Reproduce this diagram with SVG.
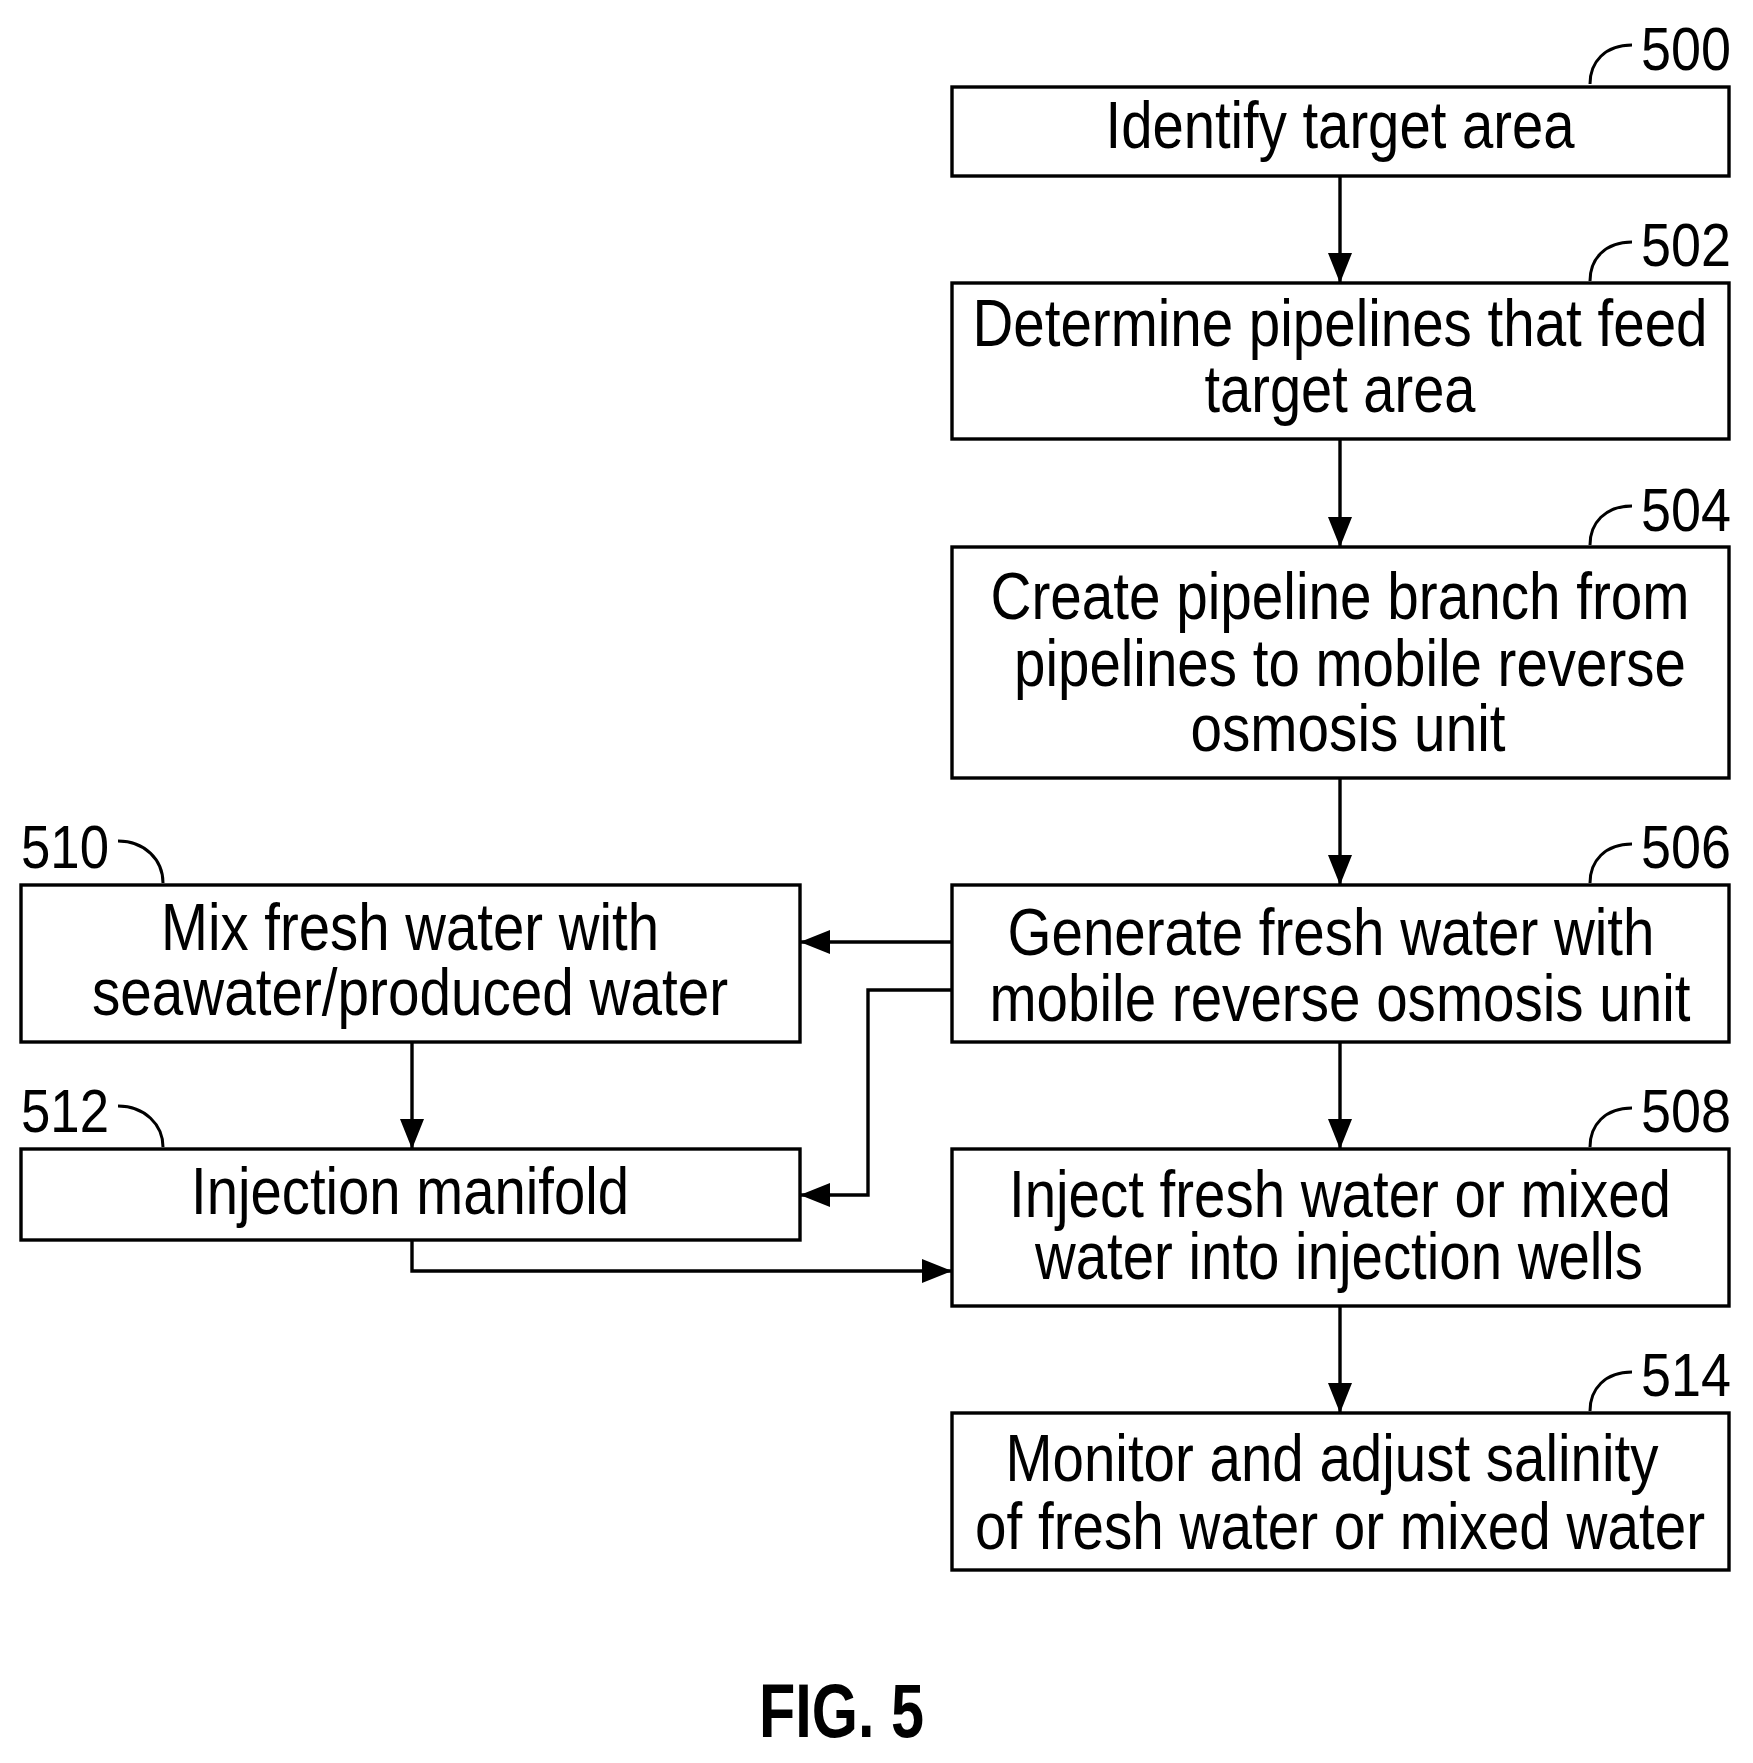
<svg xmlns="http://www.w3.org/2000/svg" width="1753" height="1763" viewBox="0 0 1753 1763">
<style>
rect{fill:#fff;stroke:#000;stroke-width:3.4}
text{font-family:"Liberation Sans",Arial,sans-serif;font-size:67px;fill:#000}
.t{text-anchor:middle}
.n{font-size:61px}
.c{fill:none;stroke:#000;stroke-width:3}
.f{font-weight:bold;font-size:76px}
</style>
<defs>
<marker id="b" markerWidth="30" markerHeight="24" refX="30" refY="12" orient="auto" markerUnits="userSpaceOnUse"><path d="M0,0 L30,12 L0,24 Z"/></marker></defs>
<rect width="1753" height="1763" style="fill:#fff;stroke:none"/>
<g id="connectors" fill="none" stroke="#000" stroke-width="3.4">
<path d="M1340,176 V283" marker-end="url(#b)"/>
<path d="M1340,439 V547" marker-end="url(#b)"/>
<path d="M1340,778 V885" marker-end="url(#b)"/>
<path d="M1340,1042 V1149" marker-end="url(#b)"/>
<path d="M1340,1306 V1413" marker-end="url(#b)"/>
<path d="M952,942 H800" marker-end="url(#b)"/>
<path d="M952,990 H868 V1195 H800" marker-end="url(#b)"/>
<path d="M412,1042 V1149" marker-end="url(#b)"/>
<path d="M412,1240 V1271 H952" marker-end="url(#b)"/>
</g>
<g id="n500"><rect x="952" y="87" width="777" height="89"/><text class="t" x="1340" y="148" textLength="469" lengthAdjust="spacingAndGlyphs">Identify target area</text><path class="c" d="M1590,84 C1590,62 1605,45 1632,45"/><text class="n" x="1641" y="70" textLength="90" lengthAdjust="spacingAndGlyphs">500</text></g>
<g id="n502"><rect x="952" y="283" width="777" height="156"/><text class="t" x="1340" y="346" textLength="735" lengthAdjust="spacingAndGlyphs">Determine pipelines that feed</text><text class="t" x="1340" y="412" textLength="271" lengthAdjust="spacingAndGlyphs">target area</text><path class="c" d="M1590,281 C1590,259 1605,242 1632,242"/><text class="n" x="1641" y="266" textLength="90" lengthAdjust="spacingAndGlyphs">502</text></g>
<g id="n504"><rect x="952" y="547" width="777" height="231"/><text class="t" x="1340" y="619" textLength="699" lengthAdjust="spacingAndGlyphs">Create pipeline branch from</text><text class="t" x="1350" y="686" textLength="672" lengthAdjust="spacingAndGlyphs">pipelines to mobile reverse</text><text class="t" x="1348" y="751" textLength="315" lengthAdjust="spacingAndGlyphs">osmosis unit</text><path class="c" d="M1590,545 C1590,523 1605,506 1632,506"/><text class="n" x="1641" y="531" textLength="90" lengthAdjust="spacingAndGlyphs">504</text></g>
<g id="n506"><rect x="952" y="885" width="777" height="157"/><text class="t" x="1331" y="955" textLength="647" lengthAdjust="spacingAndGlyphs">Generate fresh water with</text><text class="t" x="1340" y="1021" textLength="701" lengthAdjust="spacingAndGlyphs">mobile reverse osmosis unit</text><path class="c" d="M1590,883 C1590,861 1605,844 1632,844"/><text class="n" x="1641" y="868" textLength="90" lengthAdjust="spacingAndGlyphs">506</text></g>
<g id="n508"><rect x="952" y="1149" width="777" height="157"/><text class="t" x="1340" y="1217" textLength="662" lengthAdjust="spacingAndGlyphs">Inject fresh water or mixed</text><text class="t" x="1339" y="1279" textLength="608" lengthAdjust="spacingAndGlyphs">water into injection wells</text><path class="c" d="M1590,1147 C1590,1125 1605,1108 1632,1108"/><text class="n" x="1641" y="1132" textLength="90" lengthAdjust="spacingAndGlyphs">508</text></g>
<g id="n514"><rect x="952" y="1413" width="777" height="157"/><text class="t" x="1332" y="1481" textLength="653" lengthAdjust="spacingAndGlyphs">Monitor and adjust salinity</text><text class="t" x="1340" y="1549" textLength="730" lengthAdjust="spacingAndGlyphs">of fresh water or mixed water</text><path class="c" d="M1590,1411 C1590,1389 1605,1372 1632,1372"/><text class="n" x="1641" y="1396" textLength="90" lengthAdjust="spacingAndGlyphs">514</text></g>
<g id="n510"><rect x="21" y="885" width="779" height="157"/><text class="t" x="410" y="950" textLength="498" lengthAdjust="spacingAndGlyphs">Mix fresh water with</text><text class="t" x="410" y="1015" textLength="636" lengthAdjust="spacingAndGlyphs">seawater/produced water</text><path class="c" d="M118,841 C145,841 163,860 163,883"/><text class="n" x="21" y="868" textLength="88" lengthAdjust="spacingAndGlyphs">510</text></g>
<g id="n512"><rect x="21" y="1149" width="779" height="91"/><text class="t" x="410" y="1214" textLength="438" lengthAdjust="spacingAndGlyphs">Injection manifold</text><path class="c" d="M118,1106 C145,1106 163,1125 163,1147"/><text class="n" x="21" y="1132" textLength="88" lengthAdjust="spacingAndGlyphs">512</text></g>
<text class="f" x="759" y="1737" textLength="165" lengthAdjust="spacingAndGlyphs">FIG. 5</text>
</svg>
